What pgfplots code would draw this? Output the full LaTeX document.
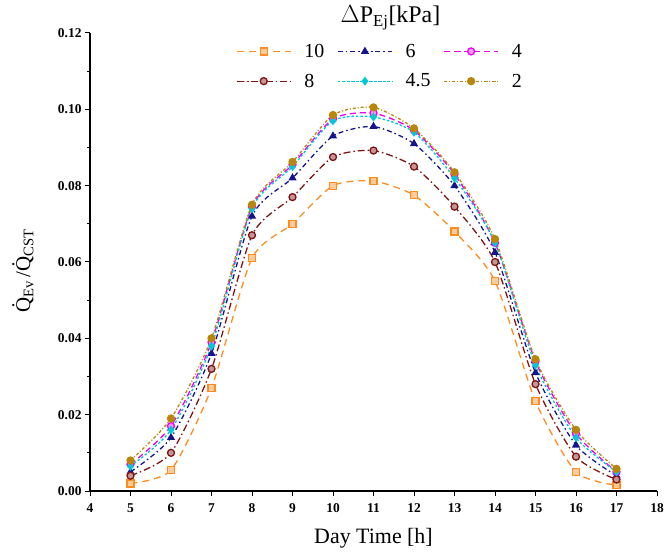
\documentclass[border=0pt]{standalone}
\usepackage{pgfplots}
\pgfplotsset{compat=1.18}
\usepackage{fontspec}
\setmainfont{Liberation Serif}
\usetikzlibrary{calc}
\definecolor{cTen}{RGB}{255,140,30}
\definecolor{cEight}{RGB}{128,20,20}
\definecolor{cSix}{RGB}{20,20,140}
\definecolor{cFourHalf}{RGB}{0,200,215}
\definecolor{cFour}{RGB}{240,0,240}
\definecolor{cTwo}{RGB}{184,134,11}
\begin{document}
\begin{tikzpicture}
\begin{axis}[
  scale only axis,
  width=567bp, height=458bp,
  xmin=4, xmax=18, ymin=0, ymax=0.12,
  axis lines=left,
  axis line style={-, line width=1.2pt},
  xtick={4,...,18},
  ytick={0,0.02,...,0.12},
  minor y tick num=1,
  tick align=outside,
  tick style={black, line width=1pt},
  major tick length=5bp, minor tick length=3bp,
  yticklabel style={/pgf/number format/.cd, fixed, fixed zerofill, precision=2, assume math mode=true},
  xticklabel style={/pgf/number format/assume math mode=true, yshift=-4bp},
  ticklabel style={font=\fontsize{13.5}{15}\selectfont\bfseries},
  xlabel={Day Time [h]},
  xlabel style={font=\fontsize{22}{26}\selectfont, yshift=-9bp},
  ylabel={\.{Q}\textsubscript{Ev}\,/\.{Q}\textsubscript{CST}},
  ylabel style={font=\fontsize{21}{24}\selectfont, at={(rel axis cs:0,0.48)}, anchor=center, yshift=67bp},
  legend columns=3,
  legend style={at={(0.252,0.985)}, anchor=north west, draw=none, fill=none,
    font=\fontsize{20}{24}\selectfont, column sep=10bp, row sep=11bp,
    nodes={inner xsep=3bp}},
  legend cell align=left,
  legend image code/.code={\draw[mark repeat=2,mark phase=2, line width=1.3pt] plot coordinates {(0bp,0bp) (27bp,0bp) (54bp,0bp)};},
  clip=false,
  every axis plot/.append style={line width=1.3pt, smooth, tension=0.4, mark size=3.5bp, mark options={solid, line width=0.9pt}},
]
\addplot[cTen, dash pattern=on 7pt off 5pt, mark=square*, mark options={fill=cTen!45, solid}] coordinates {
(5,0.0020) (6,0.0055) (7,0.0270) (8,0.0610) (9,0.0700) (10,0.0800) (11,0.0812) (12,0.0775) (13,0.0680) (14,0.0550) (15,0.0235) (16,0.0050) (17,0.0015)};
\addlegendentry{10}
\addplot[cSix, dash pattern=on 5pt off 3pt on 1.5pt off 3pt, mark=triangle*, mark options={fill=cSix, solid}] coordinates {
(5,0.0050) (6,0.0140) (7,0.0360) (8,0.0720) (9,0.0820) (10,0.0930) (11,0.0955) (12,0.0910) (13,0.0800) (14,0.0625) (15,0.0310) (16,0.0120) (17,0.0040)};
\addlegendentry{6}
\addplot[cFour, dash pattern=on 6pt off 4pt, mark=*, mark options={fill=cFour!40, solid}] coordinates {
(5,0.0070) (6,0.0170) (7,0.0390) (8,0.0745) (9,0.0855) (10,0.0975) (11,0.0990) (12,0.0945) (13,0.0830) (14,0.0650) (15,0.0340) (16,0.0150) (17,0.0050)};
\addlegendentry{4}
\addplot[cEight, dash pattern=on 7pt off 3pt on 1.5pt off 3pt, mark=*, mark options={fill=cEight!45, solid}] coordinates {
(5,0.0040) (6,0.0100) (7,0.0320) (8,0.0670) (9,0.0770) (10,0.0875) (11,0.0892) (12,0.0850) (13,0.0745) (14,0.0600) (15,0.0280) (16,0.0090) (17,0.0030)};
\addlegendentry{8}
\addplot[cFourHalf, dash pattern=on 2.5pt off 2pt, mark=diamond*, mark options={fill=cFourHalf, solid}] coordinates {
(5,0.0065) (6,0.0160) (7,0.0380) (8,0.0740) (9,0.0850) (10,0.0970) (11,0.0980) (12,0.0940) (13,0.0820) (14,0.0650) (15,0.0330) (16,0.0140) (17,0.0050)};
\addlegendentry{4.5}
\addplot[cTwo, dash pattern=on 3pt off 2pt on 1pt off 2pt, mark=*, mark options={fill=cTwo, solid}] coordinates {
(5,0.0080) (6,0.0190) (7,0.0400) (8,0.0750) (9,0.0862) (10,0.0985) (11,0.1005) (12,0.0950) (13,0.0835) (14,0.0660) (15,0.0345) (16,0.0160) (17,0.0058)};
\addlegendentry{2}
\node[font=\fontsize{24}{28}\selectfont, anchor=center] at ($(rel axis cs:0.5,1)+(17bp,15bp)$) {$\Delta$P\textsubscript{Ej}[kPa]};
\end{axis}
\pgfresetboundingbox
\path[use as bounding box] ($(current axis.south west)+(-90bp,-62bp)$) rectangle ($(current axis.north east)+(10bp,33bp)$);
\end{tikzpicture}
\end{document}
